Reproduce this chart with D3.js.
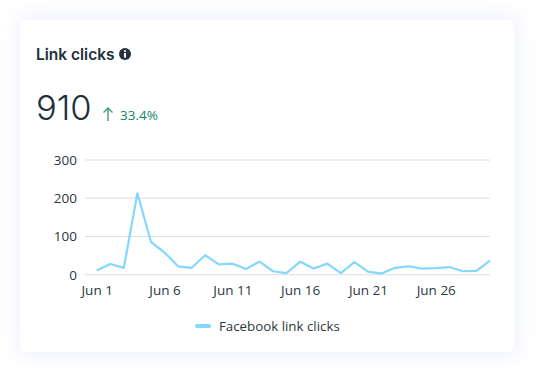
<!DOCTYPE html>
<html>
<head>
<meta charset="utf-8">
<script src="https://cdn.jsdelivr.net/npm/d3@7"></script>
<style>
  html, body { margin: 0; padding: 0; background: #fff; overflow: hidden; }
  svg { display: block; }
  .tick text { font-family: "Open Sans", sans-serif; font-size: 13.5px; fill: #2b3740; }
</style>
</head>
<body>
<svg id="chart"></svg>
<script>
const width = 554;
const height = 392;
const margin = { top: 160, right: 64, bottom: 117.3, left: 85 };

const days = d3.range(1, 31);
const clicks = [11, 28, 18, 213, 86, 58, 22, 18, 51, 27, 29, 15, 34, 9, 4, 34, 16, 29, 4, 33, 8, 3, 18, 22, 16, 17, 20, 9, 10, 37];
const xTickDays = [1, 6, 11, 16, 21, 26];
const yTicks = [0, 100, 200, 300];

const svg = d3.select("#chart")
    .attr("width", width)
    .attr("height", height);

// card with soft bluish shadow
const defs = svg.append("defs");
defs.append("filter")
    .attr("id", "glow")
    .attr("x", "-20%").attr("y", "-20%")
    .attr("width", "140%").attr("height", "140%")
    .append("feGaussianBlur")
    .attr("stdDeviation", 9);

svg.append("rect")
    .attr("x", 16).attr("y", 14)
    .attr("width", 504).attr("height", 344)
    .attr("rx", 10)
    .attr("fill", "#e9ecff")
    .attr("opacity", 0.6)
    .attr("filter", "url(#glow)");

svg.append("rect")
    .attr("x", 20).attr("y", 20)
    .attr("width", 494).attr("height", 332)
    .attr("rx", 5)
    .attr("fill", "#fff");

// header
svg.append("text")
    .attr("x", 36).attr("y", 60)
    .attr("font-family", "Inter, sans-serif")
    .attr("font-size", 15.5)
    .attr("font-weight", 600)
    .attr("fill", "#212f3b")
    .text("Link clicks");

const info = svg.append("g").attr("transform", "translate(125,54)");
info.append("circle").attr("r", 6).attr("fill", "#26333f");
info.append("circle").attr("cy", -3).attr("r", 1.1).attr("fill", "#fff");
info.append("rect").attr("x", -1).attr("y", -1).attr("width", 2).attr("height", 4.6).attr("fill", "#fff");

svg.append("text")
    .attr("x", 36).attr("y", 120)
    .attr("font-family", "Inter, sans-serif")
    .attr("font-size", 34.5)
    .attr("font-weight", 300)
    .attr("fill", "#212f3b")
    .text("910");

svg.append("path")
    .attr("d", "M108 121V108M103.5 112.5L108 108L112.5 112.5")
    .attr("fill", "none")
    .attr("stroke", "#3f9c80")
    .attr("stroke-width", 1.4);

svg.append("text")
    .attr("x", 120).attr("y", 120)
    .attr("font-family", "'Open Sans', sans-serif")
    .attr("font-size", 13.5)
    .attr("fill", "#14855f")
    .text("33.4%");

// scales
const xScale = d3.scalePoint()
    .domain(days)
    .range([96.7, width - margin.right]);

const yScale = d3.scaleLinear()
    .domain([0, 300])
    .range([height - margin.bottom, margin.top]);

// grid + y axis
const yAxis = svg.append("g")
    .attr("transform", `translate(${margin.left},0)`)
    .call(d3.axisLeft(yScale).tickValues(yTicks).tickSize(0).tickPadding(8));
yAxis.select(".domain").remove();

svg.append("g")
    .selectAll("line")
    .data(yTicks)
    .enter()
    .append("line")
    .attr("x1", margin.left)
    .attr("x2", width - margin.right)
    .attr("y1", d => yScale(d))
    .attr("y2", d => yScale(d))
    .attr("stroke", "#dcdee1")
    .attr("stroke-width", 1);

// x axis
const xAxis = svg.append("g")
    .attr("transform", `translate(0,${height - margin.bottom})`)
    .call(d3.axisBottom(xScale)
        .tickValues(xTickDays)
        .tickFormat(d => `Jun ${d}`)
        .tickSize(0)
        .tickPadding(11));
xAxis.select(".domain").remove();

// line
const line = d3.line()
    .x((d, i) => xScale(days[i]))
    .y(d => yScale(d));

svg.append("path")
    .datum(clicks)
    .attr("fill", "none")
    .attr("stroke", "#85d7ff")
    .attr("stroke-width", 2.2)
    .attr("stroke-linejoin", "round")
    .attr("d", line);

// legend
svg.append("line")
    .attr("x1", 197).attr("x2", 209)
    .attr("y1", 326).attr("y2", 326)
    .attr("stroke", "#85d7ff")
    .attr("stroke-width", 4)
    .attr("stroke-linecap", "round");

svg.append("text")
    .attr("x", 219).attr("y", 331)
    .attr("font-family", "'Open Sans', sans-serif")
    .attr("font-size", 13.3)
    .attr("fill", "#2b3740")
    .text("Facebook link clicks");
</script>
</body>
</html>
